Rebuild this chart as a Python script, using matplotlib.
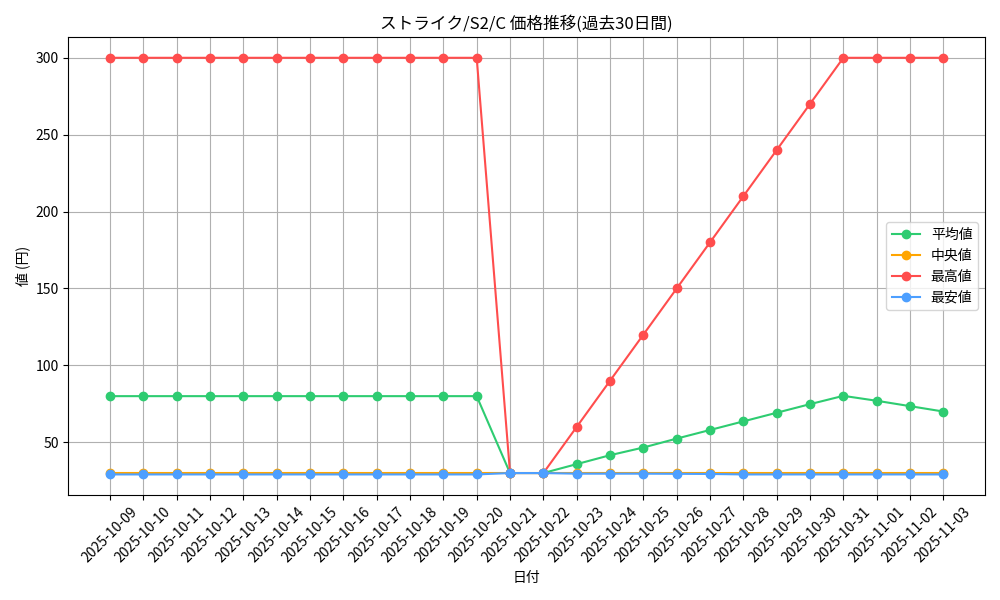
import numpy as np
import pandas as pd
import matplotlib
matplotlib.use('Agg')
import matplotlib.pyplot as plt

plt.rcParams['font.family'] = ['Noto Sans CJK JP', 'DejaVu Sans']

dates = pd.date_range('2025-10-09', '2025-11-03').strftime('%Y-%m-%d').tolist()

avg_vals = [80, 80, 80, 80, 80, 80, 80, 80, 80, 80, 80, 80,
            30, 30, 35.8, 41.6, 46.6, 52.4, 58, 63.6, 69.2, 74.8, 80.2, 77, 73.5, 70]
median_vals = [30.3] * 26
max_vals = [300, 300, 300, 300, 300, 300, 300, 300, 300, 300, 300, 300,
            30, 30, 60, 90, 120, 150, 180, 210, 240, 270, 300, 300, 300, 300]
min_vals = [29.1] * 12 + [30, 30, 29.6, 29.6, 29.6, 29.5, 29.4] + [29.1] * 7

fig, ax = plt.subplots(figsize=(10, 6), dpi=100)
x = np.arange(len(dates))

ax.plot(x, avg_vals, marker='o', color='#2ecc71', label='平均値')
ax.plot(x, median_vals, marker='o', color='#ffa500', label='中央値')
ax.plot(x, max_vals, marker='o', color='#ff4d4d', label='最高値')
ax.plot(x, min_vals, marker='o', color='#4d9fff', label='最安値')

ax.set_xticks(x)
ax.set_xticklabels(dates, rotation=45)
ax.set_title('ストライク/S2/C 価格推移(過去30日間)')
ax.set_xlabel('日付')
ax.set_ylabel('値 (円)')
ax.grid(True)
ax.legend(loc='center right')
plt.tight_layout()
plt.savefig('out.png')
